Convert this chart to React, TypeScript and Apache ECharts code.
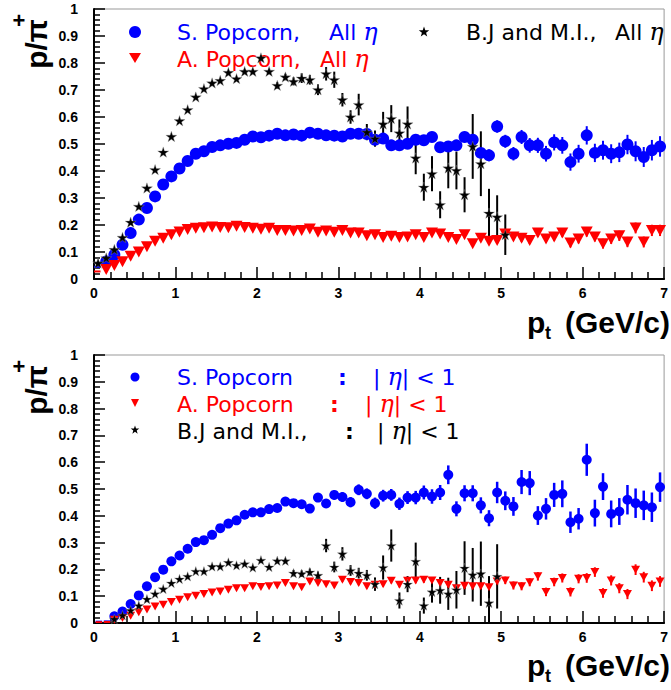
import React, { useEffect, useRef } from "react";
import * as echarts from "echarts";

// bin centres (GeV/c)
const PT = [
  0.05, 0.15, 0.25, 0.35, 0.45, 0.55, 0.65, 0.75, 0.85, 0.95,
  1.05, 1.15, 1.25, 1.35, 1.45, 1.55, 1.65, 1.75, 1.85, 1.95,
  2.05, 2.15, 2.25, 2.35, 2.45, 2.55, 2.65, 2.75, 2.85, 2.95,
  3.05, 3.15, 3.25, 3.35, 3.45, 3.55, 3.65, 3.75, 3.85, 3.95,
  4.05, 4.15, 4.25, 4.35, 4.45, 4.55, 4.65, 4.75, 4.85, 4.95,
  5.05, 5.15, 5.25, 5.35, 5.45, 5.55, 5.65, 5.75, 5.85, 5.95,
  6.05, 6.15, 6.25, 6.35, 6.45, 6.55, 6.65, 6.75, 6.85, 6.95,
];

const X_TICKS = ["0", "1", "2", "3", "4", "5", "6", "7"];

// ---------- top panel: all eta ----------
// S. Popcorn, starting at 0.15
const S_ALL = [
  0.065, 0.09, 0.127, 0.17, 0.22, 0.263, 0.306, 0.35, 0.38,
  0.409, 0.437, 0.464, 0.473, 0.489, 0.495, 0.501, 0.504, 0.516, 0.528,
  0.525, 0.531, 0.538, 0.532, 0.535, 0.531, 0.542, 0.538, 0.532, 0.531,
  0.528, 0.538, 0.538, 0.537, 0.516, 0.52, 0.495, 0.495, 0.501, 0.516,
  0.514, 0.526, 0.488, 0.491, 0.495, 0.526, 0.516, 0.467, 0.458, 0.565,
  0.51, 0.464, 0.526, 0.495, 0.495, 0.464, 0.506, 0.495, 0.433, 0.464,
  0.532, 0.467, 0.477, 0.464, 0.469, 0.498, 0.473, 0.452, 0.477, 0.491,
];
const S_ALL_ERR = [
  0.003, 0.003, 0.003, 0.003, 0.003, 0.003, 0.003, 0.003, 0.003,
  0.003, 0.003, 0.003, 0.003, 0.003, 0.003, 0.004, 0.004, 0.004, 0.004,
  0.004, 0.004, 0.005, 0.005, 0.005, 0.005, 0.006, 0.006, 0.006, 0.007,
  0.007, 0.008, 0.008, 0.009, 0.01, 0.01, 0.011, 0.012, 0.012, 0.013,
  0.014, 0.015, 0.016, 0.017, 0.018, 0.019, 0.02, 0.021, 0.022, 0.023,
  0.024, 0.025, 0.026, 0.027, 0.028, 0.029, 0.03, 0.031, 0.032, 0.033,
  0.034, 0.034, 0.035, 0.035, 0.036, 0.036, 0.037, 0.037, 0.038, 0.038,
];
const S_ALL_FIRST_BIN = 0.045;

// A. Popcorn, starting at 0.15
const A_ALL = [
  0.035, 0.05, 0.064, 0.084, 0.1, 0.119, 0.14, 0.151, 0.164,
  0.174, 0.183, 0.188, 0.19, 0.193, 0.191, 0.19, 0.195, 0.191, 0.188,
  0.184, 0.188, 0.18, 0.18, 0.178, 0.18, 0.185, 0.173, 0.178, 0.173,
  0.18, 0.17, 0.17, 0.16, 0.164, 0.154, 0.158, 0.154, 0.156, 0.164,
  0.154, 0.17, 0.167, 0.154, 0.146, 0.164, 0.131, 0.151, 0.14, 0.143,
  0.167, 0.156, 0.151, 0.143, 0.17, 0.148, 0.156, 0.17, 0.133, 0.148,
  0.174, 0.156, 0.131, 0.148, 0.16, 0.137, 0.189, 0.137, 0.18, 0.18,
];
const A_ALL_ERR = [
  0.002, 0.002, 0.002, 0.002, 0.002, 0.002, 0.002, 0.002, 0.002,
  0.002, 0.002, 0.002, 0.002, 0.002, 0.002, 0.002, 0.002, 0.002, 0.002,
  0.003, 0.003, 0.003, 0.003, 0.003, 0.003, 0.003, 0.004, 0.004, 0.004,
  0.004, 0.004, 0.005, 0.005, 0.005, 0.006, 0.006, 0.006, 0.007, 0.007,
  0.007, 0.008, 0.008, 0.009, 0.009, 0.01, 0.01, 0.01, 0.011, 0.011,
  0.012, 0.012, 0.013, 0.013, 0.014, 0.014, 0.015, 0.015, 0.016, 0.016,
  0.017, 0.017, 0.018, 0.018, 0.019, 0.019, 0.02, 0.02, 0.021, 0.021,
];
const A_ALL_FIRST_BIN = 0.028;

// B.J and M.I., starting at 0.05
const BJ_ALL = [
  0.059, 0.078, 0.109, 0.154, 0.21, 0.269, 0.337, 0.405, 0.47, 0.528,
  0.586, 0.627, 0.674, 0.705, 0.726, 0.735, 0.765, 0.742, 0.769, 0.769,
  0.819, 0.769, 0.717, 0.748, 0.732, 0.744, 0.738, 0.701, 0.76, 0.738,
  0.664, 0.6, 0.646, 0.544, 0.52, 0.574, 0.594, 0.541, 0.574, 0.448,
  0.34, 0.39, 0.275, 0.411, 0.402, 0.312, 0.491, 0.427, 0.244, 0.23,
  0.164,
];
const BJ_ALL_ERR = [
  0.002, 0.002, 0.002, 0.003, 0.003, 0.003, 0.003, 0.003, 0.004, 0.004,
  0.004, 0.005, 0.005, 0.005, 0.006, 0.006, 0.007, 0.007, 0.008, 0.008,
  0.01, 0.01, 0.012, 0.012, 0.015, 0.018, 0.018, 0.02, 0.025, 0.03,
  0.025, 0.025, 0.04, 0.03, 0.03, 0.045, 0.05, 0.05, 0.065, 0.06,
  0.05, 0.065, 0.05, 0.075, 0.07, 0.065, 0.12, 0.12, 0.09, 0.08,
  0.075,
];

// ---------- bottom panel: |eta| < 1 ----------
// starting at 0.25
const S_ETA = [
  0.025, 0.043, 0.071, 0.103, 0.137, 0.171, 0.199, 0.23,
  0.252, 0.277, 0.302, 0.309, 0.329, 0.354, 0.371, 0.383, 0.404, 0.413,
  0.413, 0.425, 0.429, 0.453, 0.447, 0.443, 0.427, 0.468, 0.446, 0.478,
  0.47, 0.451, 0.497, 0.482, 0.447, 0.475, 0.478, 0.445, 0.468, 0.468,
  0.487, 0.472, 0.487, 0.553, 0.426, 0.484, 0.484, 0.439, 0.391, 0.487,
  0.456, 0.435, 0.526, 0.522, 0.401, 0.426, 0.478, 0.482, 0.376, 0.389,
  0.609, 0.41, 0.509, 0.407, 0.416, 0.46, 0.447, 0.439, 0.432, 0.507,
];
const S_ETA_ERR = [
  0.003, 0.003, 0.003, 0.003, 0.004, 0.004, 0.004, 0.004,
  0.005, 0.005, 0.005, 0.006, 0.006, 0.006, 0.007, 0.007, 0.008, 0.008,
  0.009, 0.009, 0.01, 0.011, 0.012, 0.013, 0.014, 0.015, 0.016, 0.017,
  0.018, 0.019, 0.02, 0.02, 0.021, 0.022, 0.022, 0.023, 0.024, 0.025,
  0.026, 0.027, 0.028, 0.035, 0.028, 0.03, 0.03, 0.03, 0.03, 0.04,
  0.035, 0.035, 0.045, 0.045, 0.035, 0.04, 0.045, 0.05, 0.04, 0.04,
  0.06, 0.05, 0.05, 0.05, 0.05, 0.055, 0.055, 0.055, 0.055, 0.055,
];
const S_ETA_LOW = [0.005, 0.006]; // bins 0.05, 0.15

const A_ETA = [
  0.012, 0.019, 0.027, 0.04, 0.05, 0.062, 0.068, 0.078,
  0.087, 0.096, 0.102, 0.108, 0.114, 0.118, 0.124, 0.13, 0.13, 0.137,
  0.134, 0.137, 0.14, 0.149, 0.137, 0.133, 0.155, 0.149, 0.145, 0.14,
  0.161, 0.153, 0.149, 0.137, 0.143, 0.145, 0.158, 0.143, 0.158, 0.159,
  0.161, 0.159, 0.149, 0.143, 0.13, 0.139, 0.137, 0.137, 0.133, 0.155,
  0.159, 0.14, 0.137, 0.152, 0.174, 0.116, 0.153, 0.168, 0.116, 0.165,
  0.168, 0.19, 0.112, 0.159, 0.13, 0.108, 0.199, 0.171, 0.139, 0.155,
];
const A_ETA_ERR = [
  0.002, 0.002, 0.002, 0.002, 0.002, 0.002, 0.002, 0.002,
  0.002, 0.002, 0.003, 0.003, 0.003, 0.003, 0.003, 0.003, 0.004, 0.004,
  0.004, 0.004, 0.005, 0.005, 0.005, 0.006, 0.006, 0.006, 0.007, 0.007,
  0.007, 0.008, 0.008, 0.008, 0.009, 0.009, 0.01, 0.01, 0.01, 0.011,
  0.011, 0.011, 0.012, 0.012, 0.012, 0.013, 0.013, 0.013, 0.014, 0.014,
  0.014, 0.015, 0.015, 0.015, 0.016, 0.016, 0.016, 0.017, 0.017, 0.017,
  0.018, 0.018, 0.018, 0.019, 0.019, 0.019, 0.02, 0.02, 0.02, 0.02,
];
const A_ETA_LOW = [0.003, 0.004];

// starting at 0.25
const BJ_ETA = [
  0.015, 0.029, 0.047, 0.065, 0.089, 0.109, 0.127, 0.149,
  0.164, 0.174, 0.193, 0.193, 0.211, 0.211, 0.226, 0.215, 0.221, 0.207,
  0.234, 0.209, 0.232, 0.232, 0.186, 0.184, 0.19, 0.178, 0.289, 0.209,
  0.258, 0.196, 0.186, 0.178, 0.145, 0.207, 0.289, 0.084, 0.145, 0.23,
  0.065, 0.116, 0.122, 0.109, 0.124, 0.205, 0.18, 0.184, 0.075, 0.174,
];
const BJ_ETA_ERR = [
  0.002, 0.002, 0.002, 0.002, 0.003, 0.003, 0.003, 0.003,
  0.003, 0.004, 0.004, 0.004, 0.004, 0.005, 0.005, 0.005, 0.006, 0.006,
  0.006, 0.007, 0.008, 0.008, 0.012, 0.012, 0.013, 0.014, 0.025, 0.02,
  0.025, 0.02, 0.02, 0.02, 0.025, 0.045, 0.06, 0.03, 0.03, 0.07,
  0.03, 0.04, 0.05, 0.06, 0.07, 0.1, 0.1, 0.12, 0.1, 0.12,
];

const BLUE = "#0000ff";
const RED = "#ff0000";
const BLACK = "#000000";
const STAR = "path://M50,0 L61,35 98,35 68,57 79,91 50,70 21,91 32,57 2,35 39,35 Z";

const rows = (vals: number[], errs: number[], startIdx: number) =>
  vals.map((v, i) => [PT[startIdx + i], v, errs[i]]);

function errSeries(name: string, data: number[][], color: string, gi: number, w: number) {
  return {
    name,
    type: "custom",
    xAxisIndex: gi,
    yAxisIndex: gi,
    clip: true,
    silent: true,
    z: 2,
    encode: { x: 0, y: 1 },
    data,
    renderItem: (_p: any, api: any) => {
      const x = api.value(0);
      const y = api.value(1);
      const e = api.value(2);
      const a = api.coord([x, y - e]);
      const b = api.coord([x, y + e]);
      return {
        type: "line",
        shape: { x1: a[0], y1: a[1], x2: b[0], y2: b[1] },
        style: { stroke: color, lineWidth: w },
      };
    },
  };
}

function dashSeries(name: string, data: number[][], color: string, gi: number) {
  return {
    name,
    type: "custom",
    xAxisIndex: gi,
    yAxisIndex: gi,
    clip: true,
    silent: true,
    z: 2,
    encode: { x: 0, y: 1 },
    data,
    renderItem: (_p: any, api: any) => {
      const x = api.value(0);
      const y = api.value(1);
      const a = api.coord([x - 0.05, y]);
      const b = api.coord([x + 0.03, y]);
      return {
        type: "line",
        shape: { x1: a[0], y1: a[1], x2: b[0], y2: b[1] },
        style: { stroke: color, lineWidth: 2 },
      };
    },
  };
}

function markSeries(name: string, data: number[][], color: string, gi: number, symbol: string, size: any, rotate = 0, star = false) {
  return {
    name,
    type: "scatter",
    xAxisIndex: gi,
    yAxisIndex: gi,
    symbol,
    symbolSize: size,
    symbolRotate: rotate,
    symbolKeepAspect: true,
    z: 3,
    data: data.map((d) => [d[0], d[1]]),
    itemStyle: star
      ? { color, borderColor: "rgba(150,150,150,0.45)", borderWidth: 0.8, opacity: 1 }
      : { color, opacity: 1 },
  };
}

const starPoints = (cx: number, cy: number, r: number) => {
  const pts: number[][] = [];
  for (let k = 0; k < 10; k++) {
    const rr = k % 2 === 0 ? r : r * 0.4;
    const ang = -Math.PI / 2 + (k * Math.PI) / 5;
    pts.push([cx + rr * Math.cos(ang), cy + rr * Math.sin(ang)]);
  }
  return pts;
};

const LEG_FONT = '"DejaVu Sans"';
const ETA_FONT = '"DejaVu Serif"';

function legText(x: number, y: number, text: string, color: string, size: number) {
  return {
    type: "text",
    x,
    y,
    silent: true,
    style: {
      text,
      fill: color,
      textVerticalAlign: "middle",
      rich: {
        t: { fill: color, fontSize: size, fontFamily: LEG_FONT },
        e: { fill: color, fontSize: size + 2, fontFamily: ETA_FONT, fontStyle: "italic" },
        b: { fill: color, fontSize: size, fontFamily: LEG_FONT, fontWeight: "bold" },
      },
    },
  };
}

function axisPair(gi: number) {
  const labelStyle = { fontFamily: "Liberation Sans", fontWeight: "bold", fontSize: 14, color: "#000" };
  return {
    x: {
      type: "value",
      gridIndex: gi,
      min: 0,
      max: 7,
      interval: 1,
      axisLine: { show: true, lineStyle: { color: "#000", width: 2 } },
      axisTick: { show: true, inside: true, length: 12, lineStyle: { color: "#000", width: 1.5 } },
      minorTick: { show: true, splitNumber: 5, length: 7, lineStyle: { color: "#000", width: 1.5 } },
      splitLine: { show: false },
      minorSplitLine: { show: false },
      axisLabel: { ...labelStyle, margin: 7, formatter: (v: number) => X_TICKS[Math.round(v)] ?? String(v) },
    },
    y: {
      type: "value",
      gridIndex: gi,
      min: 0,
      max: 1,
      interval: 0.1,
      axisLine: { show: true, lineStyle: { color: "#000", width: 2 } },
      axisTick: { show: true, inside: true, length: 11, lineStyle: { color: "#000", width: 1.5 } },
      minorTick: { show: true, splitNumber: 5, length: 6, lineStyle: { color: "#000", width: 1.5 } },
      splitLine: { show: false },
      minorSplitLine: { show: false },
      axisLabel: {
        ...labelStyle,
        margin: 16,
        formatter: (v: number) => (v === 0 ? "0" : Math.abs(v - 1) < 1e-9 ? "1" : v.toFixed(1)),
      },
    },
  };
}

export default function App() {
  const ref = useRef<HTMLDivElement>(null);
  useEffect(() => {
    if (!ref.current) return;
    const chart = echarts.init(ref.current, undefined, { renderer: "svg" });
    const a0 = axisPair(0);
    const a1 = axisPair(1);

    const sAll = rows(S_ALL, S_ALL_ERR, 1);
    const aAll = rows(A_ALL, A_ALL_ERR, 1);
    const bjAll = rows(BJ_ALL, BJ_ALL_ERR, 0);
    const sEta = rows(S_ETA, S_ETA_ERR, 2);
    const aEta = rows(A_ETA, A_ETA_ERR, 2);
    const bjEta = rows(BJ_ETA, BJ_ETA_ERR, 2);

    const titleFont = 'bold 30px "Liberation Sans"';
    const yTitle = (cy: number) => [
      {
        type: "text",
        x: 36,
        y: cy,
        rotation: Math.PI / 2,
        silent: true,
        style: { text: "p/π", fill: "#000", font: titleFont, textAlign: "center", textVerticalAlign: "middle" },
      },
      {
        type: "text",
        x: 19,
        y: cy - 24,
        silent: true,
        style: { text: "+", fill: "#000", font: 'bold 22px "Liberation Sans"', textAlign: "center", textVerticalAlign: "middle" },
      },
    ];
    const xTitle = (cy: number) => [
      {
        type: "text",
        x: 527,
        y: cy,
        silent: true,
        style: { text: "p", fill: "#000", font: titleFont, textAlign: "left", textVerticalAlign: "middle" },
      },
      {
        type: "text",
        x: 545,
        y: cy + 11,
        silent: true,
        style: { text: "t", fill: "#000", font: 'bold 18px "Liberation Sans"', textAlign: "left", textVerticalAlign: "middle" },
      },
      {
        type: "text",
        x: 670,
        y: cy,
        silent: true,
        style: { text: "(GeV/c)", fill: "#000", font: titleFont, textAlign: "right", textVerticalAlign: "middle" },
      },
    ];

    chart.setOption({
      animation: false,
      backgroundColor: "#fff",
      grid: [
        { left: 94, top: 9, width: 576, height: 270, show: true, borderColor: "#999", borderWidth: 1, backgroundColor: "transparent" },
        { left: 94, top: 355, width: 576, height: 268, show: true, borderColor: "#999", borderWidth: 1, backgroundColor: "transparent" },
      ],
      xAxis: [a0.x, a1.x],
      yAxis: [a0.y, a1.y],
      series: [
        dashSeries("S first", [[PT[0], S_ALL_FIRST_BIN]], BLUE, 0),
        dashSeries("A first", [[PT[0], A_ALL_FIRST_BIN]], RED, 0),
        errSeries("S err", sAll, BLUE, 0, 2),
        errSeries("A err", aAll, RED, 0, 2),
        errSeries("BJ err", bjAll, BLACK, 0, 2),
        markSeries("S. Popcorn, All η", sAll, BLUE, 0, "circle", 12),
        markSeries("A. Popcorn, All η", aAll, RED, 0, "triangle", [12, 11], 180),
        markSeries("B.J and M.I., All η", bjAll, BLACK, 0, STAR, 11, 0, true),

        dashSeries("S low", S_ETA_LOW.map((v, i) => [PT[i] + 0.02, v]), BLUE, 1),
        dashSeries("A low", A_ETA_LOW.map((v, i) => [PT[i] + 0.02, v]), RED, 1),
        errSeries("S eta err", sEta, BLUE, 1, 2.5),
        errSeries("A eta err", aEta, RED, 1, 2),
        errSeries("BJ eta err", bjEta, BLACK, 1, 2),
        markSeries("S. Popcorn |η|<1", sEta, BLUE, 1, "circle", 10),
        markSeries("A. Popcorn |η|<1", aEta, RED, 1, "triangle", [9, 8], 180),
        markSeries("B.J and M.I. |η|<1", bjEta, BLACK, 1, STAR, 10, 0, true),
      ],
      graphic: [
        ...yTitle(44),
        ...yTitle(390),
        ...xTitle(322),
        ...xTitle(665),
        // top legend
        { type: "circle", silent: true, shape: { cx: 135, cy: 32, r: 6 }, style: { fill: BLUE } },
        { type: "polygon", silent: true, shape: { points: [[129, 53], [141, 53], [135, 63]] }, style: { fill: RED } },
        { type: "polygon", silent: true, shape: { points: starPoints(424, 32, 5.5) }, style: { fill: BLACK } },
        legText(177, 32, "{t|S. Popcorn,}", BLUE, 22),
        legText(329, 32, "{t|All }{e|η}", BLUE, 22),
        legText(177, 59, "{t|A. Popcorn,}", RED, 22),
        legText(320, 59, "{t|All }{e|η}", RED, 22),
        legText(466, 32, "{t|B.J and M.I.,}", BLACK, 22),
        legText(615, 32, "{t|All }{e|η}", BLACK, 22),
        // bottom legend
        { type: "circle", silent: true, shape: { cx: 135, cy: 377, r: 4.5 }, style: { fill: BLUE } },
        { type: "polygon", silent: true, shape: { points: [[131, 399], [139, 399], [135, 407]] }, style: { fill: RED } },
        { type: "polygon", silent: true, shape: { points: starPoints(135, 430, 4.5) }, style: { fill: BLACK } },
        legText(177, 377, "{t|S. Popcorn}", BLUE, 22),
        legText(338, 377, "{b|:}", BLUE, 22),
        legText(373, 377, "{t|| }{e|η}{t|| < 1}", BLUE, 22),
        legText(177, 404, "{t|A. Popcorn}", RED, 22),
        legText(330, 404, "{b|:}", RED, 22),
        legText(365, 404, "{t|| }{e|η}{t|| < 1}", RED, 22),
        legText(177, 431, "{t|B.J and M.I.,}", BLACK, 22),
        legText(345, 431, "{b|:}", BLACK, 22),
        legText(377, 431, "{t|| }{e|η}{t|| < 1}", BLACK, 22),
      ],
    });
    return () => chart.dispose();
  }, []);
  return <div ref={ref} style={{ position: "fixed", left: 0, top: 0, width: 671, height: 690 }} />;
}
